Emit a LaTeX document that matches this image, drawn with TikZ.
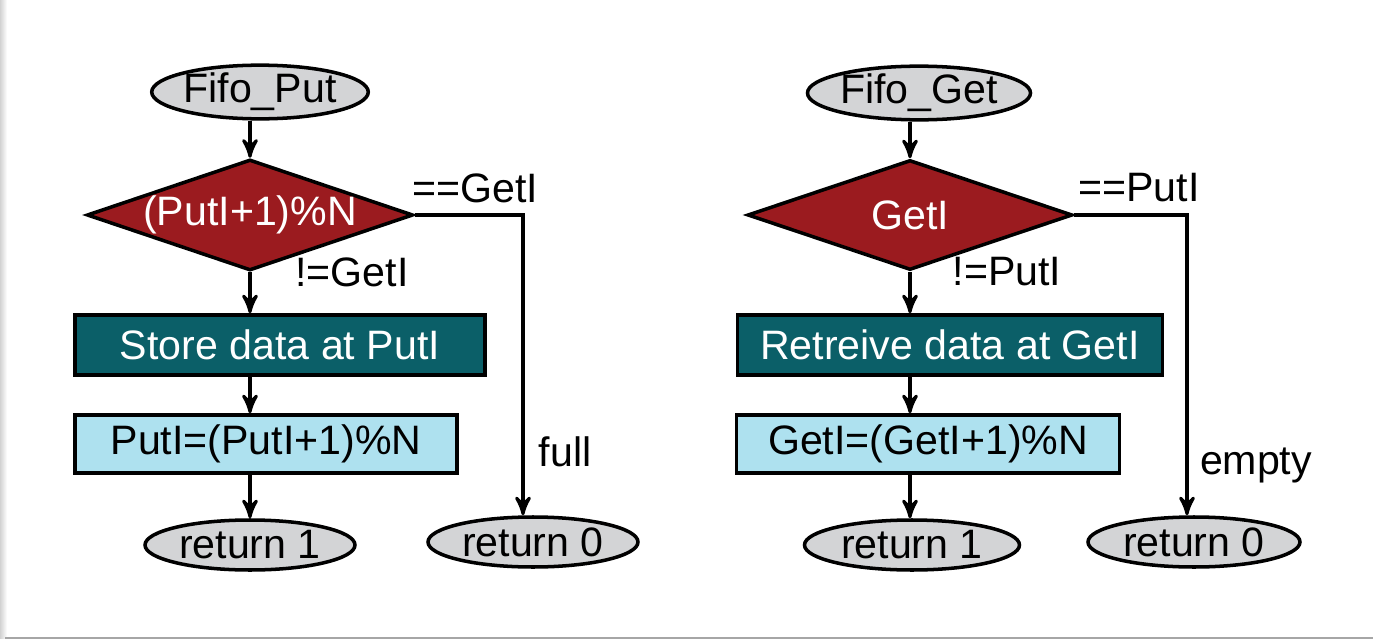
\documentclass[tikz,border=0pt]{standalone}
\usepackage{fontspec}
\setmainfont{Liberation Sans}
\usepackage{tikz}
\definecolor{termgray}{RGB}{211,212,214}
\definecolor{decred}{RGB}{155,27,31}
\definecolor{procteal}{RGB}{11,95,104}
\definecolor{updblue}{RGB}{174,225,239}
\usetikzlibrary{positioning}
\usetikzlibrary{shapes}
\usetikzlibrary{arrows}
\usetikzlibrary{calc}
\tikzset{every node/.style={font=\fontsize{11.7}{14}\selectfont}}
\tikzset{term/.style={ellipse,draw=black,fill=termgray,line width=1pt,minimum width=2.1cm,minimum height=0.5cm,inner sep=0pt}}
\tikzset{decision/.style={diamond,draw=black,fill=decred,text=white,line width=1pt,aspect=2.94,minimum width=3.23cm,minimum height=1.1cm,inner sep=0pt}}
\tikzset{process/.style={rectangle,draw=black,fill=procteal,text=white,line width=1pt,minimum height=0.6cm,inner sep=0pt}}
\tikzset{update/.style={rectangle,draw=black,fill=updblue,line width=1pt,minimum height=0.58cm,inner sep=0pt}}
\tikzset{line/.style={black,>=stealth',line width=0.9pt}}
\tikzset{lbl/.style={inner sep=1pt}}

\begin{document}
\begin{tikzpicture}
  \useasboundingbox (0,0) rectangle (13.73,6.40);
  % Frame
  \shade[left color=gray!35,right color=white] (0,0.02) rectangle (0.07,6.40);
  \draw[gray!70,line width=0.8pt] (0.05,0.02) -- (13.73,0.02);

  % Fifo_Put
  \node[term] (put) at (2.60,5.48) {Fifo\_Put};
  \node[decision] (pcheck) at (2.50,4.25) {(PutI+1)\%N};
  \node[process,minimum width=4.1cm] (store) at (2.80,2.95) {Store data at PutI};
  \node[update,minimum width=3.82cm] (putinc) at (2.66,1.96) {PutI=(PutI+1)\%N\hspace{0.2cm}};
  \node[term] (pret1) at (2.50,0.95) {return 1};
  \node[term] (pret0) at (5.33,0.98) {return 0};
  \coordinate (pturn) at (5.23,4.25);

  \draw[line,->] (put.south -| pcheck) -- (pcheck.north);
  \draw[line,->] (pcheck.south) -- (pcheck.south |- store.north);
  \draw[line,->] (store.south -| pcheck) -- (pcheck |- putinc.north);
  \draw[line,->] (putinc.south -| pcheck) -- (pcheck |- pret1.north);
  \draw[line,->] (pcheck.east) -- (pturn) -- (pturn |- pret0.north);

  \node[lbl] (peq) at (4.75,4.52) {==GetI};
  \node[lbl] (pne) at (3.52,3.68) {!=GetI};
  \node[lbl] (pfull) at (5.65,1.88) {full};

  % Fifo_Get
  \node[term,minimum width=2.12cm,minimum height=0.53cm] (get) at (9.19,5.47) {Fifo\_Get};
  \node[decision,minimum width=3.25cm] (gcheck) at (9.10,4.25) {GetI};
  \node[process,minimum width=4.25cm] (fetch) at (9.50,2.95) {Retreive data at GetI};
  \node[update,minimum width=3.83cm] (getinc) at (9.28,1.96) {GetI=(GetI+1)\%N\hspace{0.2cm}};
  \node[term,minimum width=2.15cm] (gret1) at (9.12,0.95) {return 1};
  \node[term,minimum width=2.12cm] (gret0) at (11.94,0.98) {return 0};
  \coordinate (gturn) at (11.87,4.25);

  \draw[line,->] (get.south -| gcheck) -- (gcheck.north);
  \draw[line,->] (gcheck.south) -- (gcheck.south |- fetch.north);
  \draw[line,->] (fetch.south -| gcheck) -- (gcheck |- getinc.north);
  \draw[line,->] (getinc.south -| gcheck) -- (gcheck |- gret1.north);
  \draw[line,->] (gcheck.east) -- (gturn) -- (gturn |- gret0.north);

  \node[lbl] (geq) at (11.39,4.52) {==PutI};
  \node[lbl] (gne) at (10.07,3.68) {!=PutI};
  \node[lbl] (gempty) at (12.56,1.75) {empty};
\end{tikzpicture}
\end{document}
